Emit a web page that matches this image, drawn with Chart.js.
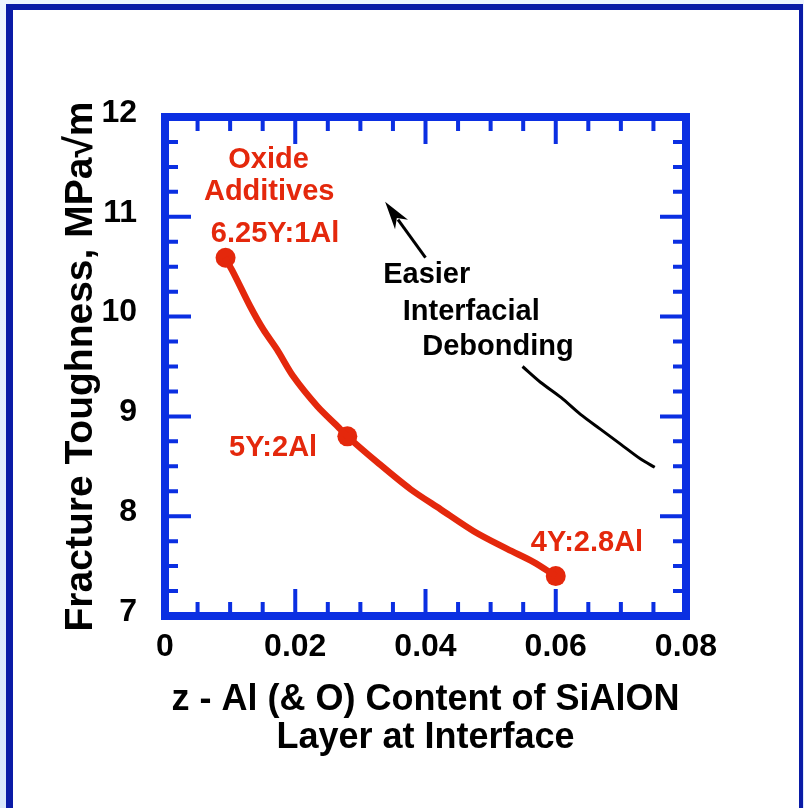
<!DOCTYPE html>
<html>
<head>
<meta charset="utf-8">
<script src="https://cdn.jsdelivr.net/npm/chart.js@4.4.1/dist/chart.umd.min.js"></script>
<style>
  html, body { margin: 0; padding: 0; }
  body { width: 804px; height: 808px; position: relative; overflow: hidden;
         background: linear-gradient(#eef4fe, #d9e7fb); }
  #frame { position: absolute; left: 6px; top: 4px; width: 786px; height: 830px;
           border-left: 7px solid #0a1ba6; border-top: 6px solid #0a1ba6; border-right: 4px solid #0a1ba6;
           background: #fff; }
  #wrap { position: absolute; left: 0; top: 0; width: 804px; height: 808px; }
</style>
</head>
<body>
<div id="frame"></div>
<div id="wrap"><canvas id="myChart" width="804" height="808"></canvas></div>
<script>
// toughness vs. z for the three oxide additive mixes
const curveZ = [0.0092, 0.0105, 0.0131, 0.0151, 0.0172, 0.0197, 0.0234, 0.0265, 0.0280,
                0.0326, 0.0377, 0.0423, 0.0474, 0.0526, 0.0566, 0.0600];
const curveK = [10.59, 10.44, 10.10, 9.87, 9.67, 9.40, 9.10, 8.90, 8.80,
                8.54, 8.27, 8.07, 7.85, 7.67, 7.54, 7.40];

// measured compositions
const pointZ = [0.0093, 0.0280, 0.0600];
const pointK = [10.59, 8.80, 7.40];
const pointNames = ['6.25Y:1Al', '5Y:2Al', '4Y:2.8Al'];

// debonding trend line
const trendZ = [0.0549, 0.0577, 0.0608, 0.0638, 0.0669, 0.0700, 0.0731, 0.0752];
const trendK = [9.50, 9.34, 9.19, 9.02, 8.87, 8.72, 8.57, 8.49];

const xTicks = [0, 0.02, 0.04, 0.06, 0.08];
const yTicks = [7, 8, 9, 10, 11, 12];

const RED = '#e4280c';
const BLUE = '#0b2fe2';
const FONT = '"Liberation Sans", Arial, Helvetica, sans-serif';

const toXY = (xs, ys) => xs.map((v, i) => ({ x: v, y: ys[i] }));

// text notes placed in data units (x = z, y = toughness), baseline anchored
const notes = [
  { text: 'Oxide', x: 0.0159, y: 11.49, color: RED, align: 'center' },
  { text: 'Additives', x: 0.0160, y: 11.17, color: RED, align: 'center' },
  { text: pointNames[0], x: 0.0169, y: 10.75, color: RED, align: 'center' },
  { text: pointNames[1], x: 0.0166, y: 8.60, color: RED, align: 'center' },
  { text: pointNames[2], x: 0.0648, y: 7.65, color: RED, align: 'center' },
  { text: 'Easier', x: 0.0335, y: 10.34, color: '#000', align: 'left' },
  { text: 'Interfacial', x: 0.0365, y: 9.97, color: '#000', align: 'left' },
  { text: 'Debonding', x: 0.0395, y: 9.62, color: '#000', align: 'left' }
];
const arrow = { from: { x: 0.0400, y: 10.59 }, to: { x: 0.0338, y: 11.15 } };

const decor = {
  id: 'decor',
  afterDraw(chart) {
    const { ctx, chartArea: a, scales: { x, y } } = chart;
    ctx.save();

    // inward ticks on all four sides
    ctx.strokeStyle = BLUE;
    ctx.lineWidth = 4;
    ctx.beginPath();
    for (let i = 0; i <= 16; i++) {
      const px = x.getPixelForValue(i * 0.005);
      const len = i % 4 === 0 ? 27 : 14;
      ctx.moveTo(px, a.bottom); ctx.lineTo(px, a.bottom - len);
      ctx.moveTo(px, a.top); ctx.lineTo(px, a.top + len);
    }
    for (let i = 0; i <= 20; i++) {
      const py = y.getPixelForValue(7 + i * 0.25);
      const len = i % 4 === 0 ? 26 : 13;
      ctx.moveTo(a.left, py); ctx.lineTo(a.left + len, py);
      ctx.moveTo(a.right, py); ctx.lineTo(a.right - len, py);
    }
    ctx.stroke();

    // heavy box
    ctx.lineWidth = 8;
    ctx.strokeRect(a.left, a.top, a.right - a.left, a.bottom - a.top);

    // notes
    ctx.font = 'bold 29px ' + FONT;
    ctx.textBaseline = 'alphabetic';
    notes.forEach(n => {
      ctx.fillStyle = n.color;
      ctx.textAlign = n.align;
      ctx.fillText(n.text, x.getPixelForValue(n.x), y.getPixelForValue(n.y));
    });

    // arrow
    const x0 = x.getPixelForValue(arrow.from.x), y0 = y.getPixelForValue(arrow.from.y);
    const x1 = x.getPixelForValue(arrow.to.x), y1 = y.getPixelForValue(arrow.to.y);
    const ang = Math.atan2(y1 - y0, x1 - x0);
    const hl = 28, hw = 8;
    const bx = x1 - hl * Math.cos(ang), by = y1 - hl * Math.sin(ang);
    ctx.strokeStyle = '#000';
    ctx.fillStyle = '#000';
    ctx.lineWidth = 3;
    ctx.beginPath();
    ctx.moveTo(x0, y0);
    ctx.lineTo(bx + 6 * Math.cos(ang), by + 6 * Math.sin(ang));
    ctx.stroke();
    ctx.beginPath();
    ctx.moveTo(x1, y1);
    ctx.lineTo(bx + hw * Math.sin(ang), by - hw * Math.cos(ang));
    ctx.lineTo(bx + 8 * Math.cos(ang), by + 8 * Math.sin(ang));
    ctx.lineTo(bx - hw * Math.sin(ang), by + hw * Math.cos(ang));
    ctx.closePath();
    ctx.fill();

    ctx.restore();
  }
};

const ctx = document.getElementById('myChart');
const myChart = new Chart(ctx, {
  type: 'scatter',
  data: {
    datasets: [
      {
        data: toXY(curveZ, curveK),
        showLine: true,
        borderColor: RED,
        borderWidth: 6.5,
        pointRadius: 0,
        tension: 0.3
      },
      {
        data: toXY(pointZ, pointK),
        backgroundColor: RED,
        borderColor: RED,
        pointRadius: 10,
        pointBorderWidth: 0
      },
      {
        data: toXY(trendZ, trendK),
        showLine: true,
        borderColor: '#000',
        borderWidth: 3,
        pointRadius: 0,
        tension: 0.3
      }
    ]
  },
  options: {
    responsive: false,
    animation: false,
    layout: { padding: { top: 117, right: 118, bottom: 0, left: 0 } },
    plugins: { legend: { display: false }, tooltip: { enabled: false } },
    scales: {
      x: {
        type: 'linear',
        min: 0,
        max: 0.08,
        afterFit: s => { s.height = 192; },
        afterBuildTicks: s => { s.ticks = xTicks.map(v => ({ value: v })); },
        grid: { display: false, drawTicks: false },
        border: { display: false },
        ticks: {
          padding: 12,
          color: '#000',
          font: { family: FONT, size: 32, weight: 'bold' },
          callback: v => (v === 0 ? '0' : v.toFixed(2))
        },
        title: {
          display: true,
          text: ['z - Al (& O) Content of SiAlON', 'Layer at Interface'],
          color: '#000',
          font: { family: FONT, size: 36, weight: 'bold', lineHeight: 1.08 },
          padding: { top: 0, bottom: 50 }
        }
      },
      y: {
        type: 'linear',
        min: 7,
        max: 12,
        afterFit: s => { s.width = 165; },
        afterBuildTicks: s => { s.ticks = yTicks.map(v => ({ value: v })); },
        grid: { display: false, drawTicks: false },
        border: { display: false },
        ticks: {
          padding: 28,
          labelOffset: -4,
          color: '#000',
          font: { family: FONT, size: 32, weight: 'bold' }
        },
        title: {
          display: true,
          text: 'Fracture Toughness, MPa\u221Am',
          color: '#000',
          font: { family: FONT, size: 39, weight: 'bold', lineHeight: 1.1 },
          padding: { top: 60, bottom: 0 }
        }
      }
    }
  },
  plugins: [decor]
});
</script>
</body>
</html>
